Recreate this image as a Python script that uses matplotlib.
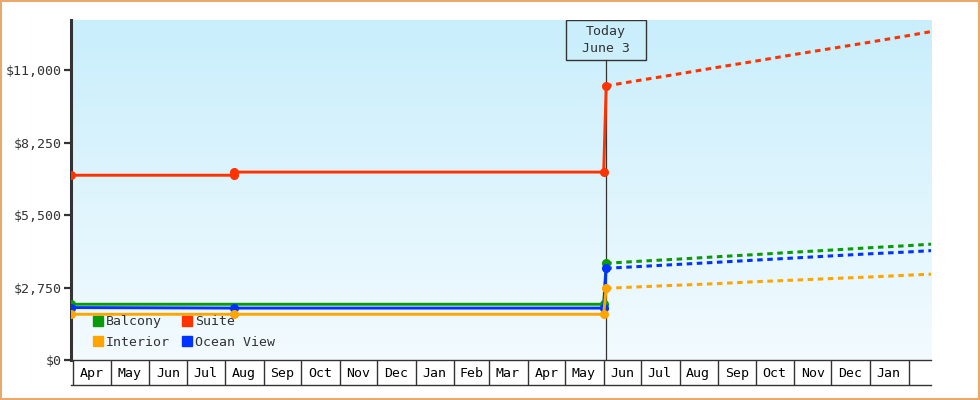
import matplotlib.pyplot as plt
import matplotlib.dates as mdates
import numpy as np
from matplotlib.patches import Rectangle
from matplotlib.lines import Line2D
from matplotlib.colors import LinearSegmentedColormap
from matplotlib.transforms import blended_transform_factory

plt.rcParams['font.family'] = ['DejaVu Sans Mono']
plt.rcParams['font.size'] = 9.5

# --- data ---
# price history (stepwise), then forecast (dashed)
suite_hist_dates = ['2024-03-30', '2024-08-08', '2024-08-08', '2025-06-01', '2025-06-03']
suite_hist = [7010, 7010, 7130, 7130, 10400]
balcony_hist_dates = ['2024-03-30', '2025-06-01', '2025-06-03']
balcony_hist = [2115, 2115, 3670]
ocean_hist_dates = ['2024-03-30', '2024-08-08', '2025-06-01', '2025-06-03']
ocean_hist = [1990, 1970, 1970, 3480]
interior_hist_dates = ['2024-03-30', '2024-08-08', '2025-06-01', '2025-06-03']
interior_hist = [1735, 1735, 1735, 2720]

forecast_dates = ['2025-06-03', '2025-07-01', '2025-08-01', '2025-09-01', '2025-10-01',
                  '2025-11-01', '2025-12-01', '2026-01-01', '2026-02-01', '2026-02-19']
suite_fc = [10400, 10620, 10860, 11110, 11340, 11590, 11820, 12060, 12310, 12460]
balcony_fc = [3670, 3750, 3830, 3920, 4000, 4090, 4170, 4260, 4340, 4395]
ocean_fc = [3480, 3550, 3630, 3710, 3790, 3870, 3950, 4030, 4100, 4150]
interior_fc = [2720, 2780, 2840, 2900, 2970, 3030, 3090, 3150, 3220, 3255]

y_ticks = [0, 2750, 5500, 8250, 11000]
month_labels = ['Apr', 'May', 'Jun', 'Jul', 'Aug', 'Sep', 'Oct', 'Nov', 'Dec', 'Jan', 'Feb',
                'Mar', 'Apr', 'May', 'Jun', 'Jul', 'Aug', 'Sep', 'Oct', 'Nov', 'Dec', 'Jan']
month_starts = np.arange('2024-04', '2026-03', dtype='datetime64[M]').astype('datetime64[D]')
today = np.datetime64('2025-06-03')

colors = {'Balcony': '#0a9a0a', 'Suite': '#ff3300', 'Interior': '#ffa500', 'Ocean View': '#0033ff'}

x_start, x_end = np.datetime64('2024-03-30'), np.datetime64('2026-02-19')

fig = plt.figure(figsize=(9.8, 4), dpi=100)
L, R = 71 / 980, 931 / 980
ax = fig.add_axes([L, 40 / 400, R - L, 340 / 400])

# background gradient
grad = LinearSegmentedColormap.from_list('bg', ['#f3fbff', '#c9eefc'])
ax.imshow(np.linspace(0, 1, 256).reshape(-1, 1), cmap=grad, origin='lower',
          extent=(0, 1, 0, 1), transform=ax.transAxes, aspect='auto', zorder=0)

def d(lst):
    return np.array(lst, dtype='datetime64[D]')

lines = [
    ('Suite', suite_hist_dates, suite_hist, suite_fc),
    ('Balcony', balcony_hist_dates, balcony_hist, balcony_fc),
    ('Ocean View', ocean_hist_dates, ocean_hist, ocean_fc),
    ('Interior', interior_hist_dates, interior_hist, interior_fc),
]
for name, hd, hv, fc in lines:
    c = colors[name]
    ax.plot(d(hd), hv, color=c, lw=2.1, marker='o', ms=5.5, zorder=3)
    ax.plot(d(forecast_dates), fc, color=c, lw=2.2, dashes=(1.8, 1.5), zorder=3)

ax.set_xlim(x_start, x_end)
ax.set_ylim(0, 12900)
ax.set_yticks(y_ticks)
ax.set_yticklabels(['$' + format(v, ',') for v in y_ticks])
ax.set_xticks([])
for s in ['top', 'right', 'bottom']:
    ax.spines[s].set_visible(False)
ax.spines['left'].set_linewidth(2.2)
ax.spines['left'].set_color('#333333')
ax.tick_params(axis='y', length=5, width=1.6, color='#333333', labelcolor='#333333', pad=2)

# today marker
blend = blended_transform_factory(ax.transData, ax.transAxes)
tnum = mdates.date2num(today)
box_h = 40 / 340
ax.plot([tnum, tnum], [0, 1 - box_h], transform=blend, color='#333333', lw=0.9, zorder=2)
ax.add_patch(Rectangle((tnum - 32, 1 - box_h), 64, box_h, transform=blend,
                       facecolor='none', edgecolor='#333333', lw=1, zorder=4))
ax.text(tnum, 1 - box_h / 2, 'Today\nJune 3', transform=blend, ha='center', va='center',
        linespacing=1.45, color='#333333', zorder=5)

# legend
handles = [Line2D([], [], ls='none', marker='s', ms=7.5, color=colors[n]) for n in
           ['Balcony', 'Interior', 'Suite', 'Ocean View']]
ax.legend(handles, ['Balcony', 'Interior', 'Suite', 'Ocean View'], ncol=2, loc='lower left',
          bbox_to_anchor=(0.017, 0.014), frameon=False, handlelength=0.9, handletextpad=0.15,
          columnspacing=0.85, labelspacing=0.55, borderpad=0, labelcolor='#333333')

# month row
axm = fig.add_axes([L, 15 / 400, R - L, 25 / 400])
axm.set_xlim(x_start, x_end)
axm.set_ylim(0, 1)
axm.set_xticks([])
axm.set_yticks([])
axm.patch.set_alpha(0)
for s in ['left', 'right']:
    axm.spines[s].set_visible(False)
for s in ['top', 'bottom']:
    axm.spines[s].set_color('#333333')
    axm.spines[s].set_linewidth(1.0)
axm.vlines(month_starts, 0, 1, color='#333333', lw=1.0)
for i, lab in enumerate(month_labels):
    mid = month_starts[i] + (month_starts[i + 1] - month_starts[i]) / 2
    axm.text(mid, 0.45, lab, ha='center', va='center', color='black')

# outer border
fig.patches.append(Rectangle((0.001, 0.002), 0.998, 0.996, transform=fig.transFigure,
                             fill=False, edgecolor='#e8aa6c', lw=1.5))

fig.savefig('out.png', dpi=100)
